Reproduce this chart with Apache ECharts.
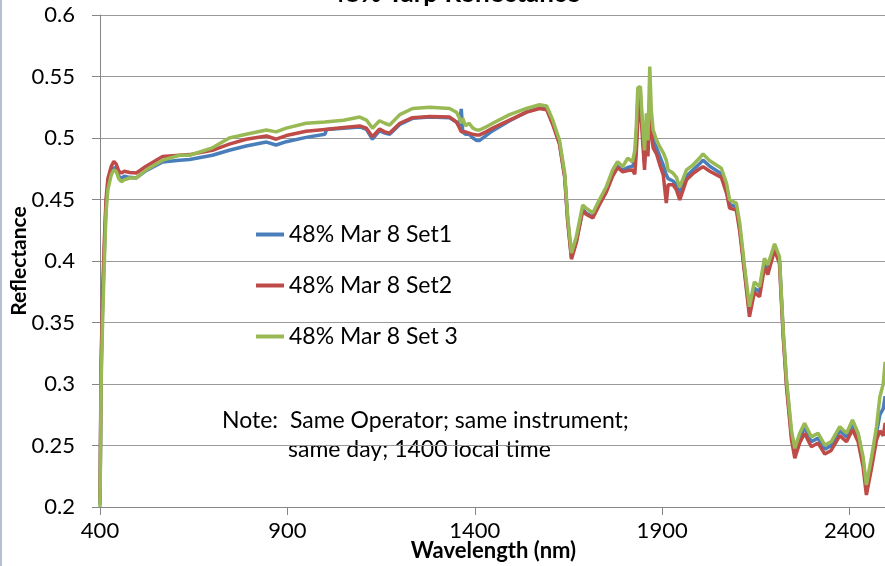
<!DOCTYPE html>
<html>
<head>
<meta charset="utf-8">
<script src="https://cdn.jsdelivr.net/npm/echarts@6/dist/echarts.min.js"></script>
<style>
  html, body { margin: 0; padding: 0; background: #fff; }
  #chart { width: 885px; height: 566px; }
</style>
</head>
<body>
<div id="chart"></div>
<script>
// Wavelength samples (nm) shared by the three measurement sets
const wavelength = [
  400, 403, 407, 412, 416, 421, 430, 437, 443, 450, 457, 465, 479, 497, 523, 567, 612, 639, 700, 745,
  790, 844, 870, 897, 950, 1000, 1005, 1050, 1093, 1111, 1127, 1146, 1160, 1173, 1200, 1234, 1280, 1333, 1351, 1358,
  1364, 1368, 1375, 1385, 1395, 1405, 1413, 1430, 1448, 1493, 1538, 1573, 1592, 1608, 1626, 1640, 1648, 1658, 1671, 1688,
  1697, 1715, 1733, 1751, 1768, 1781, 1795, 1808, 1821, 1827, 1831, 1835, 1842, 1847, 1853, 1858, 1862, 1867, 1871, 1876,
  1885, 1894, 1903, 1911, 1916, 1929, 1938, 1947, 1965, 1982, 2000, 2009, 2027, 2058, 2072, 2080, 2098, 2107, 2120, 2133,
  2146, 2160, 2173, 2182, 2200, 2213, 2223, 2232, 2245, 2254, 2267, 2280, 2298, 2316, 2334, 2351, 2374, 2392, 2408, 2423,
  2436, 2445, 2459, 2472, 2481, 2490, 2495, 2500
];

// Reflectance, 48% tarp, Mar 8, Set 1
const set1 = [
  0.202, 0.310, 0.365, 0.412, 0.445, 0.462, 0.472, 0.476, 0.475, 0.469, 0.467, 0.469, 0.468, 0.4675, 0.4735, 0.4805, 0.482, 0.4825, 0.486, 0.490,
  0.4935, 0.4967, 0.4943, 0.497, 0.5005, 0.503, 0.507, 0.508, 0.509, 0.507, 0.499, 0.506, 0.504, 0.503, 0.511, 0.516, 0.517, 0.5165, 0.513, 0.510,
  0.5236, 0.505, 0.503, 0.503, 0.500, 0.498, 0.498, 0.502, 0.506, 0.514, 0.521, 0.5245, 0.5235, 0.512, 0.496, 0.469, 0.433, 0.403, 0.416, 0.442,
  0.439, 0.436, 0.447, 0.457, 0.470, 0.477, 0.474, 0.476, 0.477, 0.482, 0.500, 0.530, 0.535, 0.510, 0.480, 0.512, 0.490, 0.532, 0.512, 0.498,
  0.492, 0.485, 0.478, 0.470, 0.467, 0.465, 0.462, 0.455, 0.469, 0.474, 0.479, 0.482, 0.477, 0.471, 0.459, 0.446, 0.444, 0.427, 0.392, 0.358,
  0.378, 0.375, 0.398, 0.393, 0.412, 0.401, 0.341, 0.300, 0.259, 0.244, 0.256, 0.265, 0.253, 0.256, 0.247, 0.250, 0.262, 0.257, 0.267, 0.259,
  0.238, 0.215, 0.237, 0.260, 0.275, 0.280, 0.290, 0.285
];

// Reflectance, 48% tarp, Mar 8, Set 2
const set2 = [
  0.205, 0.320, 0.375, 0.420, 0.450, 0.467, 0.477, 0.481, 0.479, 0.473, 0.4715, 0.473, 0.472, 0.4715, 0.477, 0.485, 0.486, 0.4865, 0.490, 0.495,
  0.499, 0.5016, 0.499, 0.502, 0.5055, 0.507, 0.507, 0.5085, 0.5098, 0.508, 0.501, 0.5073, 0.505, 0.504, 0.512, 0.5165, 0.5175, 0.517, 0.513, 0.509,
  0.505, 0.504, 0.505, 0.504, 0.503, 0.5025, 0.5025, 0.505, 0.508, 0.5145, 0.521, 0.524, 0.523, 0.511, 0.495, 0.468, 0.432, 0.4015, 0.415, 0.441,
  0.438, 0.435, 0.446, 0.456, 0.469, 0.476, 0.4725, 0.4735, 0.474, 0.4705, 0.488, 0.512, 0.530, 0.502, 0.474, 0.508, 0.485, 0.522, 0.505, 0.492,
  0.487, 0.478, 0.470, 0.447, 0.462, 0.462, 0.458, 0.4496, 0.466, 0.471, 0.475, 0.4767, 0.473, 0.468, 0.455, 0.443, 0.4415, 0.424, 0.390, 0.3547,
  0.3745, 0.371, 0.395, 0.389, 0.409, 0.398, 0.339, 0.297, 0.255, 0.2396, 0.252, 0.260, 0.249, 0.252, 0.243, 0.246, 0.258, 0.253, 0.263, 0.253,
  0.233, 0.2098, 0.232, 0.2545, 0.262, 0.258, 0.268, 0.267
];

// Reflectance, 48% tarp, Mar 8, Set 3
const set3 = [
  0.200, 0.300, 0.352, 0.403, 0.439, 0.458, 0.470, 0.474, 0.473, 0.467, 0.4645, 0.466, 0.4675, 0.4675, 0.474, 0.482, 0.486, 0.486, 0.492, 0.500,
  0.503, 0.5065, 0.505, 0.508, 0.512, 0.513, 0.513, 0.5145, 0.517, 0.5146, 0.508, 0.514, 0.512, 0.5105, 0.519, 0.524, 0.525, 0.524, 0.521, 0.517,
  0.512, 0.516, 0.510, 0.512, 0.508, 0.5065, 0.5065, 0.509, 0.512, 0.519, 0.524, 0.527, 0.526, 0.5146, 0.4984, 0.4715, 0.436, 0.4065, 0.4198, 0.4455,
  0.443, 0.439, 0.450, 0.4604, 0.474, 0.4807, 0.4767, 0.4837, 0.4807, 0.490, 0.509, 0.5407, 0.5417, 0.5146, 0.490, 0.520, 0.498, 0.558, 0.5228, 0.5065,
  0.4984, 0.4927, 0.488, 0.482, 0.474, 0.4715, 0.468, 0.460, 0.474, 0.478, 0.4837, 0.487, 0.4815, 0.4754, 0.463, 0.4496, 0.447, 0.431, 0.3954, 0.3628,
  0.383, 0.379, 0.4022, 0.3967, 0.414, 0.4035, 0.344, 0.3033, 0.2626, 0.2477, 0.260, 0.268, 0.257, 0.260, 0.2504, 0.253, 0.2653, 0.260, 0.2707, 0.260,
  0.241, 0.2179, 0.241, 0.2653, 0.2897, 0.300, 0.318, 0.310
];

const seriesNames = ['48% Mar 8 Set1', '48% Mar 8 Set2', '48% Mar 8 Set 3'];
const seriesColors = ['#4a7ebb', '#be4b48', '#98b954'];
const wavelengthTicks = [400, 900, 1400, 1900, 2400];

const FONT = 'Lato, "Open Sans", sans-serif';
const pairs = vals => wavelength.map((w, i) => [w, vals[i]]);

const chart = echarts.init(document.getElementById('chart'), null, { renderer: 'canvas' });

chart.setOption({
  animation: false,
  backgroundColor: '#ffffff',
  title: {
    text: '48% Tarp Reflectance',
    left: 455,
    textAlign: 'center',
    top: -19,
    padding: 0,
    textStyle: { fontFamily: FONT, fontSize: 26, fontWeight: 'bold', color: '#000' }
  },
  grid: { left: 100, right: -2, top: 15, bottom: 59, containLabel: false, outerBoundsMode: 'none' },
  legend: {
    orient: 'vertical',
    left: 256,
    top: 223,
    padding: 0,
    icon: 'rect',
    itemWidth: 28,
    itemHeight: 4,
    itemGap: 28,
    textStyle: { fontFamily: FONT, fontSize: 23, color: '#000', lineHeight: 23 },
    data: seriesNames
  },
  xAxis: {
    type: 'value',
    min: 400,
    max: 2500,
    name: 'Wavelength (nm)',
    nameLocation: 'middle',
    nameGap: 33,
    nameMoveOverlap: false,
    nameTextStyle: { fontFamily: FONT, fontSize: 22, fontWeight: 'bold', color: '#000' },
    axisLine: { show: true, lineStyle: { color: '#868686', width: 1 } },
    axisTick: { show: true, length: 8, customValues: wavelengthTicks, lineStyle: { color: '#868686' } },
    axisLabel: {
      customValues: wavelengthTicks,
      margin: 13,
      fontFamily: FONT, fontSize: 22, color: '#000',
      formatter: v => String(v)
    },
    splitLine: { show: false }
  },
  yAxis: {
    type: 'value',
    min: 0.2,
    max: 0.6,
    interval: 0.05,
    name: 'Reflectance',
    nameLocation: 'middle',
    nameGap: 70,
    nameMoveOverlap: false,
    nameTextStyle: { fontFamily: FONT, fontSize: 21, fontWeight: 'bold', color: '#000' },
    axisLine: { show: true, lineStyle: { color: '#868686', width: 1 } },
    axisTick: { show: true, length: 8, lineStyle: { color: '#868686' } },
    axisLabel: {
      margin: 25,
      fontFamily: FONT, fontSize: 22, color: '#000',
      formatter: v => String(+v.toFixed(2))
    },
    splitLine: { show: true, lineStyle: { color: '#9a9a9a', width: 1 } }
  },
  graphic: [
    {
      type: 'line',
      shape: { x1: 1, y1: 0, x2: 1, y2: 566 },
      style: { stroke: '#b4bfd2', lineWidth: 2 }
    },
    {
      type: 'text',
      left: 222,
      top: 409,
      style: {
        text: 'Note:  Same Operator; same instrument;',
        font: '23px ' + FONT,
        fill: '#000'
      }
    },
    {
      type: 'text',
      left: 288,
      top: 438,
      style: {
        text: 'same day; 1400 local time',
        font: '23px ' + FONT,
        fill: '#000'
      }
    }
  ],
  series: [set1, set2, set3].map((vals, i) => ({
    name: seriesNames[i],
    type: 'line',
    data: pairs(vals),
    showSymbol: false,
    symbol: 'none',
    smooth: false,
    clip: true,
    color: seriesColors[i],
    lineStyle: { color: seriesColors[i], width: 3.5 },
    z: 2 + i
  }))
});
</script>
</body>
</html>
